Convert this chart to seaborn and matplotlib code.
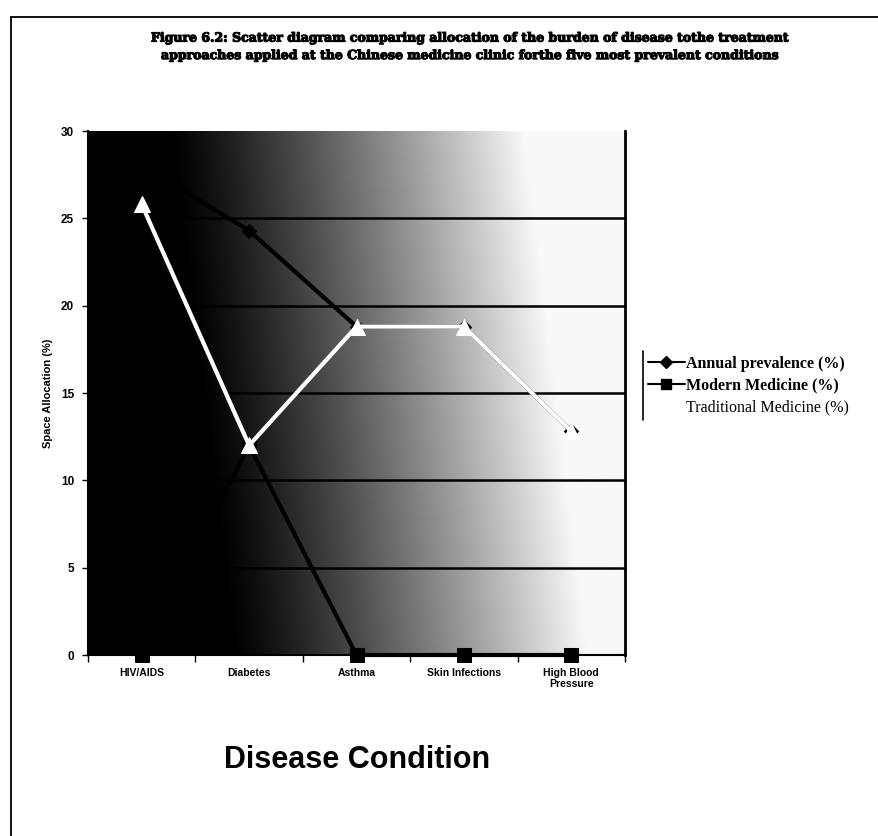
import numpy as np
import pandas as pd
import matplotlib
matplotlib.use("Agg")
import matplotlib.pyplot as plt
import matplotlib.patheffects as pe
from matplotlib.lines import Line2D
import seaborn as sns

categories = ["HIV/AIDS", "Diabetes", "Asthma", "Skin Infections", "High Blood\nPressure"]
annual_prevalence = [28.0, 24.3, 18.8, 18.8, 12.8]
modern_medicine = [0.0, 12.0, 0.0, 0.0, 0.0]
traditional_medicine = [25.8, 12.0, 18.8, 18.8, 12.8]
series_names = ["Annual prevalence (%)", "Modern Medicine (%)", "Traditional Medicine (%)"]
y_ticks = [0, 5, 10, 15, 20, 25, 30]

sns.set_theme(style="white")
plt.rcParams["font.family"] = ["Liberation Sans", "DejaVu Sans"]
plt.rcParams["text.color"] = "black"
plt.rcParams["axes.labelcolor"] = "black"
plt.rcParams["xtick.color"] = "black"
plt.rcParams["ytick.color"] = "black"

fig = plt.figure(figsize=(8.79, 8.36), dpi=100)
ax = fig.add_axes([0.1001, 0.2165, 0.611, 0.6268])

# gradient background (black at left -> light at right)
gx = np.linspace(0, 1, 400)
gy = np.linspace(0, 1, 200)
GX, GY = np.meshgrid(gx, gy)
val = np.clip((GX - 0.21 + 0.12 * (GY - 0.5)) / 0.66, 0, 1) ** 1.15
val = 0.97 * val
ax.imshow(val, extent=(-0.5, 4.5, 0, 30), origin="lower", aspect="auto",
          cmap="gray", vmin=0, vmax=1, zorder=0, interpolation="bilinear")

for yv in y_ticks[1:-1]:
    ax.axhline(yv, color="black", lw=1.8, zorder=1)

df = pd.DataFrame({
    "x": list(range(len(categories))) * 3,
    "value": annual_prevalence + modern_medicine + traditional_medicine,
    "series": [series_names[0]] * 5 + [series_names[1]] * 5 + [series_names[2]] * 5,
})

styles = {
    series_names[1]: dict(color="black", marker="s", markersize=10, z=3),
    series_names[0]: dict(color="black", marker="D", markersize=7, z=4),
    series_names[2]: dict(color="white", marker="^", markersize=12, z=5),
}
for name in [series_names[1], series_names[0], series_names[2]]:
    sub = df[df["series"] == name]
    st = styles[name]
    sns.lineplot(data=sub, x="x", y="value", ax=ax, color=st["color"], lw=3,
                 marker=st["marker"], markersize=st["markersize"],
                 markeredgecolor=st["color"], markerfacecolor=st["color"],
                 zorder=st["z"], legend=False, clip_on=False)

ax.set_xlim(-0.5, 4.5)
ax.set_ylim(0, 30)
ax.set_yticks(y_ticks)
ax.set_yticklabels([str(v) for v in y_ticks], fontsize=8.5, fontweight="bold")
ax.set_xticks(range(len(categories)))
ax.set_xticklabels(categories, fontsize=7.5, fontweight="bold")
ax.set_xticks(np.arange(-0.5, 5.0, 1.0), minor=True)
ax.tick_params(axis="x", which="major", length=0, pad=9)
ax.tick_params(axis="x", which="minor", length=5, width=1, color="black", direction="out", bottom=True)
ax.tick_params(axis="y", length=4, width=1, color="black", direction="out", left=True, pad=6)
ax.set_xlabel("")
ax.set_ylabel("Space Allocation (%)", fontsize=8, fontweight="bold", labelpad=6)

for side in ["left", "bottom", "right"]:
    ax.spines[side].set_visible(True)
    ax.spines[side].set_color("black")
    ax.spines[side].set_linewidth(1.5)
ax.spines["top"].set_visible(False)
ax.spines["right"].set_linewidth(2)

fig.text(0.406, 0.091, "Disease Condition", ha="center", va="center",
         fontsize=22, fontweight="bold", color="black")

title = fig.text(0.535, 0.944,
         "Figure 6.2: Scatter diagram comparing allocation of the burden of disease tothe treatment\n"
         "approaches applied at the Chinese medicine clinic forthe five most prevalent conditions",
         ha="center", va="center", fontsize=9, fontweight="bold",
         family=["DejaVu Serif"], linespacing=1.45, color="black")
title.set_path_effects([pe.withStroke(linewidth=0.8, foreground="black")])

handles = [
    Line2D([], [], color="black", lw=1.5, marker="D", markersize=6),
    Line2D([], [], color="black", lw=1.5, marker="s", markersize=7),
    Line2D([], [], color="white", lw=1.5, marker="^", markersize=7),
]
leg = fig.legend(handles, series_names, loc="center left", bbox_to_anchor=(0.730, 0.539),
                 frameon=False,
                 prop={"family": "Liberation Serif", "size": 11.5, "weight": "bold"},
                 handlelength=2.3, handletextpad=0.1, borderpad=0.4, labelspacing=0.35,
                 borderaxespad=0)
for i, t in enumerate(leg.get_texts()):
    t.set_color("black")
    if i == 2:
        t.set_fontweight("normal")

# legend box left edge (only visible part of the frame)
fig.add_artist(Line2D([0.731, 0.731], [0.498, 0.580], transform=fig.transFigure, color="black", lw=1.2))

# outer page border (left and top)
fig.add_artist(Line2D([0.012, 0.012], [0.0, 0.98], transform=fig.transFigure, color="black", lw=1.3))
fig.add_artist(Line2D([0.012, 1.0], [0.98, 0.98], transform=fig.transFigure, color="black", lw=1.3))

fig.savefig("out.png", dpi=100, facecolor="white")
